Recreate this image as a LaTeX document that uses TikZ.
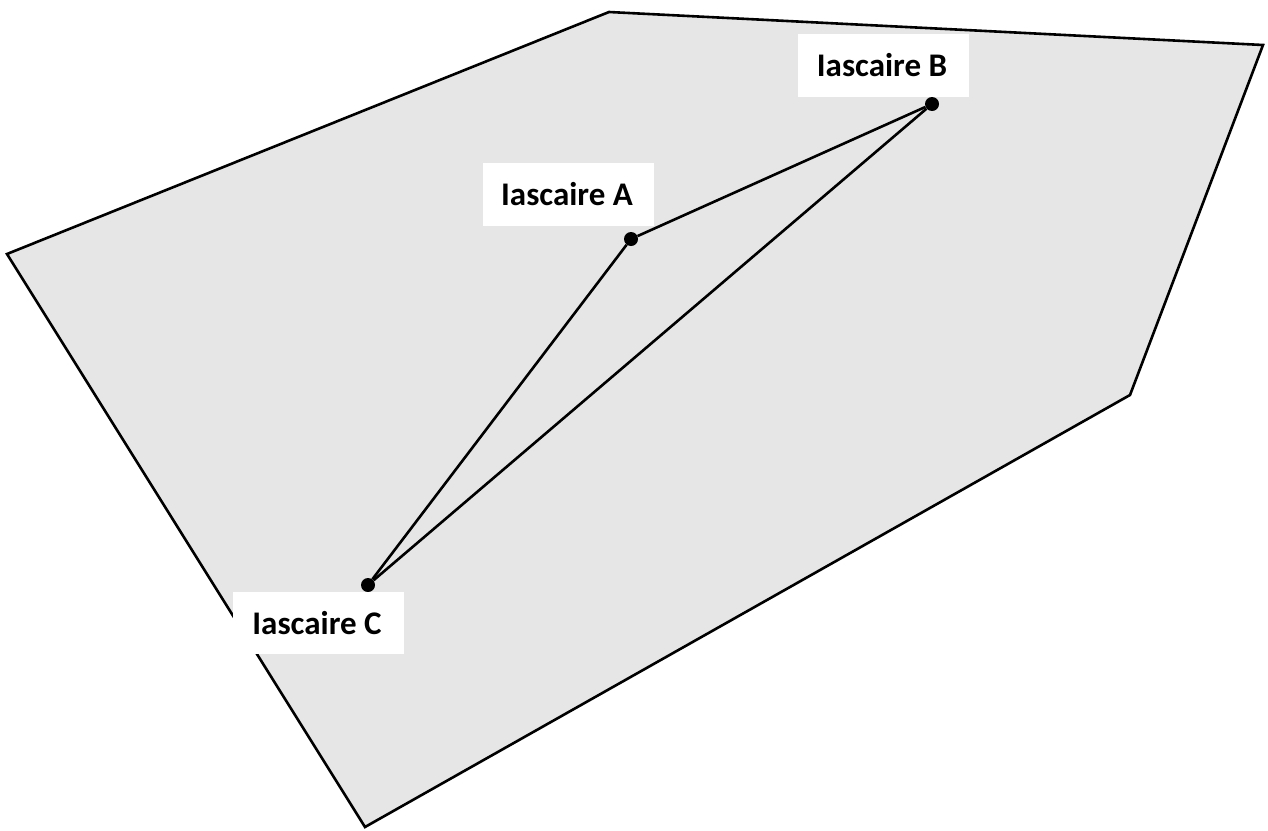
\documentclass[tikz,border=0pt]{standalone}
\usepackage{fontspec}
\setmainfont{Carlito}
\definecolor{regionfill}{HTML}{E6E6E6}
\begin{document}
\begin{tikzpicture}[x=1pt,y=-1pt,
  edge/.style={draw=black,line width=2.6pt},
  pt/.style={circle,fill=black,inner sep=0pt,minimum size=14pt},
  lbl/.style={fill=white,inner sep=0pt,font=\fontsize{33}{38}\selectfont\bfseries}]
\useasboundingbox (0,0) rectangle (1268,830);
\draw[fill=regionfill,line width=2.6pt,line join=miter] (7,254) -- (609,12) -- (1263,45) -- (1130,395) -- (365,827) -- cycle;
\node[pt] (A) at (631,239) {};
\node[pt] (B) at (932,104) {};
\node[pt] (C) at (368,585) {};
\draw[edge] (A) -- (B);
\draw[edge] (A) -- (C);
\draw[edge] (B) -- (C);
\node[lbl,minimum width=171pt,minimum height=63pt] (la) at (568.5,194.5) {Iascaire A\kern3pt};
\node[lbl,minimum width=171pt,minimum height=63pt] (lb) at (883.5,65.5) {Iascaire B\kern3pt};
\node[lbl,minimum width=171pt,minimum height=62pt] (lc) at (318.5,623) {Iascaire C\kern3pt};
\end{tikzpicture}
\end{document}
